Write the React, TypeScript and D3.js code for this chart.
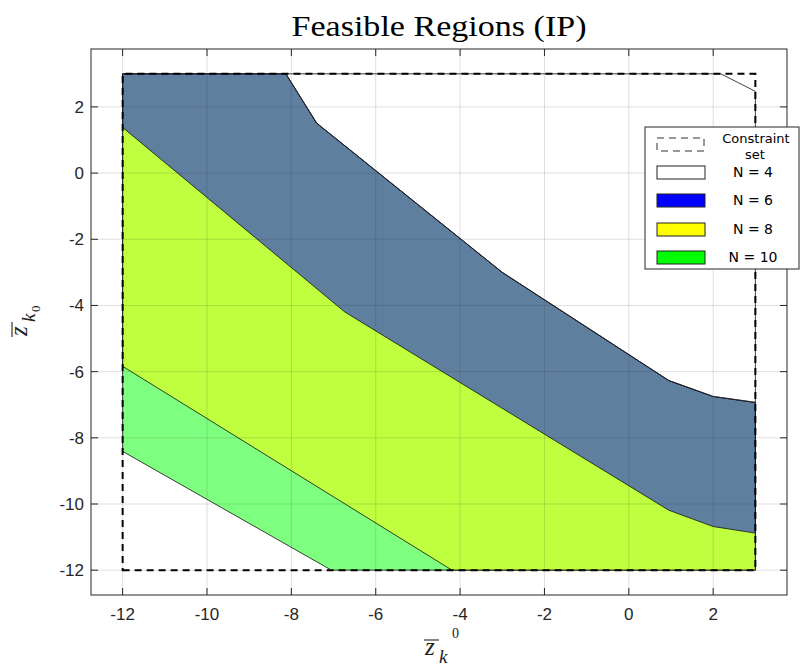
import React from "react";
import * as d3 from "d3";

// ---------- data ----------
const xTicks = [-12, -10, -8, -6, -4, -2, 0, 2];
const yTicks = [-12, -10, -8, -6, -4, -2, 0, 2];

// constraint set (box)
const constraintSet: [number, number][] = [[-12, -12], [3, -12], [3, 3], [-12, 3]];

// N = 4 region (upper-right)
const n4Region: [number, number][] = [
  [-8.13, 3], [2.18, 3], [3, 2.47], [3, -6.93], [2.0, -6.75], [0.95, -6.27], [-3, -3], [-7.4, 1.51],
];
// N = 6 region
const n6Region: [number, number][] = [
  [-12, 3], [-8.13, 3], [-7.4, 1.51], [-3, -3], [0.95, -6.27], [2.0, -6.75], [3, -6.93],
  [3, -10.88], [2.0, -10.68], [0.95, -10.19], [-6.73, -4.2], [-12, 1.38],
];
// N = 8 region
const n8Region: [number, number][] = [
  [-12, 3], [-8.13, 3], [-7.4, 1.51], [-3, -3], [0.95, -6.27], [2.0, -6.75], [3, -6.93],
  [3, -12], [-4.19, -12], [-12, -5.84],
];
// N = 10 region
const n10Region: [number, number][] = [
  [-12, 3], [-8.13, 3], [-7.4, 1.51], [-3, -3], [0.95, -6.27], [2.0, -6.75], [3, -6.93],
  [3, -12], [-7.05, -12], [-12, -8.41],
];

const legendLabels = ["N = 4", "N = 6", "N = 8", "N = 10"];
const legendColors = ["#ffffff", "#0000ff", "#ffff00", "#00ff00"];

// ---------- layout ----------
const W = 800;
const H = 667;
const AX = { left: 91, right: 787, top: 49, bottom: 595 };

const x = d3.scaleLinear().domain([-12.75, 3.75]).range([AX.left, AX.right]);
const y = d3.scaleLinear().domain([-12.75, 3.75]).range([AX.bottom, AX.top]);

const line = d3
  .line<[number, number]>()
  .x((d) => x(d[0]))
  .y((d) => y(d[1]));
const poly = (pts: [number, number][]) => line(pts)! + "Z";

const AXC = "#262626";
const TICKFONT = "'Liberation Sans', Arial, sans-serif";

function MathZ({ superscript }: { superscript: boolean }) {
  return (
    <g>
      <line x1={-1} x2={14} y1={-15} y2={-15} stroke="#222" strokeWidth={1.1} />
      <text x={0} y={0} fontFamily="'Liberation Serif', serif" fontStyle="italic" fontSize={25} fill="#222">
        z
      </text>
      <text x={14} y={8} fontFamily="'Liberation Serif', serif" fontStyle="italic" fontSize={19} fill="#222">
        k
      </text>
      {superscript ? (
        <text x={27} y={-17} fontFamily="'Liberation Serif', serif" fontSize={14} fill="#222">
          0
        </text>
      ) : (
        <text x={24} y={13} fontFamily="'Liberation Serif', serif" fontSize={13} fill="#222">
          0
        </text>
      )}
    </g>
  );
}

export default function App() {
  const legX = 645;
  const legY = 127;
  const legW = 154;
  const legH = 142;
  const rowY = [172, 200, 229, 257];

  return (
    <svg
      width={W}
      height={H}
      style={{ position: "absolute", left: 0, top: 0, display: "block", background: "#fff" }}
    >
      <rect x={0} y={0} width={W} height={H} fill="#fff" />
      {/* axes background */}
      <rect x={AX.left} y={AX.top} width={AX.right - AX.left} height={AX.bottom - AX.top} fill="#fff" />

      {/* regions */}
      <path d={poly(n10Region)} fill="#00ff00" fillOpacity={0.5} stroke="#111" strokeWidth={0.8} />
      <path d={poly(n8Region)} fill="#ffff00" fillOpacity={0.5} stroke="#111" strokeWidth={0.8} />
      <path d={poly(n6Region)} fill="#0000ff" fillOpacity={0.5} stroke="#111" strokeWidth={0.8} />
      <path d={poly(n4Region)} fill="#ffffff" fillOpacity={0.5} stroke="#111" strokeWidth={0.8} />

      {/* constraint set */}
      <path
        d={poly(constraintSet)}
        fill="none"
        stroke="#000"
        strokeWidth={2}
        strokeDasharray="7 5"
      />

      {/* grid on top */}
      <g stroke={AXC} strokeOpacity={0.15} strokeWidth={1}>
        {xTicks.map((t) => (
          <line key={"gx" + t} x1={x(t)} x2={x(t)} y1={AX.top} y2={AX.bottom} />
        ))}
        {yTicks.map((t) => (
          <line key={"gy" + t} x1={AX.left} x2={AX.right} y1={y(t)} y2={y(t)} />
        ))}
      </g>

      {/* ticks */}
      <g stroke={AXC} strokeWidth={1}>
        {xTicks.map((t) => (
          <g key={"tx" + t}>
            <line x1={x(t)} x2={x(t)} y1={AX.bottom} y2={AX.bottom - 7} />
            <line x1={x(t)} x2={x(t)} y1={AX.top} y2={AX.top + 7} />
          </g>
        ))}
        {yTicks.map((t) => (
          <g key={"ty" + t}>
            <line x1={AX.left} x2={AX.left + 7} y1={y(t)} y2={y(t)} />
            <line x1={AX.right} x2={AX.right - 7} y1={y(t)} y2={y(t)} />
          </g>
        ))}
      </g>

      {/* axes box */}
      <rect
        x={AX.left}
        y={AX.top}
        width={AX.right - AX.left}
        height={AX.bottom - AX.top}
        fill="none"
        stroke={AXC}
        strokeWidth={1}
      />

      {/* tick labels */}
      <g fontFamily={TICKFONT} fontSize={17} fill={AXC}>
        {xTicks.map((t) => (
          <text key={"lx" + t} x={x(t)} y={AX.bottom + 25} textAnchor="middle">
            {d3.format("")(t).replace("−", "-")}
          </text>
        ))}
        {yTicks.map((t) => (
          <text key={"ly" + t} x={AX.left - 7} y={y(t) + 6} textAnchor="end">
            {d3.format("")(t).replace("−", "-")}
          </text>
        ))}
      </g>

      {/* title */}
      <text
        x={(AX.left + AX.right) / 2}
        y={36}
        textAnchor="middle"
        fontFamily="'Liberation Serif', serif"
        fontSize={29}
        fill="#000"
        textLength={295}
        lengthAdjust="spacingAndGlyphs"
      >
        Feasible Regions (IP)
      </text>

      {/* axis labels */}
      <g transform="translate(425,655)">
        <MathZ superscript={true} />
      </g>
      <g transform="translate(27,336) rotate(-90)">
        <MathZ superscript={false} />
      </g>

      {/* legend */}
      <g>
        <rect x={legX} y={legY} width={legW} height={legH} fill="#fff" stroke={AXC} strokeWidth={1} />
        <rect
          x={657}
          y={138}
          width={47}
          height={13}
          fill="none"
          stroke="#333"
          strokeWidth={1}
          strokeDasharray="7 5"
        />
        <g fontFamily="'DejaVu Sans', Verdana, sans-serif" fontSize={14} fill="#000" textAnchor="middle">
          <text x={756} y={143} fontSize={13}>Constraint</text>
          <text x={755} y={159} fontSize={13}>set</text>
          {legendLabels.map((l, i) => (
            <g key={l}>
              <rect
                x={657}
                y={rowY[i] - 6}
                width={48}
                height={13}
                fill={legendColors[i]}
                stroke="#222"
                strokeWidth={1}
              />
              <text x={753} y={rowY[i] + 5}>{l}</text>
            </g>
          ))}
        </g>
      </g>
    </svg>
  );
}
